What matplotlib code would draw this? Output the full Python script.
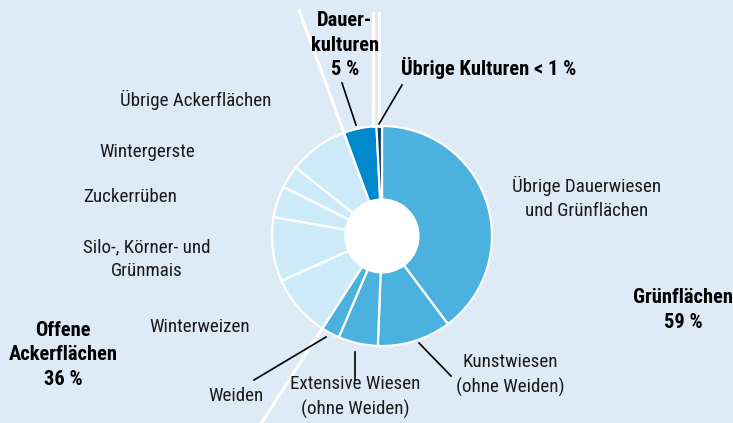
import matplotlib
matplotlib.use("Agg")
import matplotlib.pyplot as plt
import matplotlib.patches as mpatches
from matplotlib import font_manager
import numpy as np

# slices clockwise from 12 o'clock, shares in %
labels = ["Übrige Dauerwiesen\nund Grünflächen", "Kunstwiesen\n(ohne Weiden)",
          "Extensive Wiesen\n(ohne Weiden)", "Weiden", "Winterweizen",
          "Silo-, Körner- und\nGrünmais", "Zuckerrüben", "Wintergerste",
          "Übrige Ackerflächen", "Dauerkulturen", "Übrige Kulturen"]
values = [39.7, 10.8, 5.8, 2.7, 9.2, 9.4, 4.6, 3.3, 8.7, 4.8, 0.8]
groups = ["gruen"] * 4 + ["acker"] * 5 + ["dauer", "uebrig"]

group_colors = {"gruen": "#4bb2df", "acker": "#cdeaf9",
                "dauer": "#0088cd", "uebrig": "#003a6b"}
bg = "#dfeaf7"

W, H = 733, 423
cx, cy = 382, H - 236
r_out, r_in = 110, 36.5

# pick a condensed face if there is one
names = {f.name for f in font_manager.fontManager.ttflist}
family = "DejaVu Sans"
narrow = False
for cand in ["Roboto Condensed", "Liberation Sans Narrow", "Open Sans Condensed",
             "Noto Sans Condensed", "Roboto", "Liberation Sans"]:
    if cand in names:
        family = cand
        narrow = "Narrow" in cand or "Condensed" in cand
        break
plt.rcParams["font.family"] = [family, "DejaVu Sans"]
fs = 13.7 if narrow else 10.8
fsb = 14.8 if narrow else 11.2

fig = plt.figure(figsize=(W / 100, H / 100), dpi=100, facecolor=bg)
ax = fig.add_axes([0, 0, 1, 1])
ax.set_facecolor(bg)

wedges, _ = ax.pie(values, colors=[group_colors[g] for g in groups],
                   startangle=90, counterclock=False, center=(cx, cy),
                   radius=r_out, frame=True,
                   wedgeprops=dict(width=r_out - r_in, edgecolor="white", linewidth=1.6))
ax.add_patch(mpatches.Circle((cx, cy), r_in, facecolor="white", edgecolor="none", zorder=3))
ax.set_xlim(0, W)
ax.set_ylim(0, H)
ax.axis("off")

# boundary angles (degrees clockwise from top)
cum = np.cumsum(values) / np.sum(values) * 360


def pt(angle, r):
    a = np.deg2rad(angle)
    return cx + r * np.sin(a), cy + r * np.cos(a)


# white group separators running out of the ring
for i, r_end in [(3, 230), (8, 240)]:
    x0, y0 = pt(cum[i], r_out)
    x1, y1 = pt(cum[i], r_end)
    ax.plot([x0, x1], [y0, y1], color="white", lw=2.2, zorder=1)
for i in [9, 10]:
    x0, y0 = pt(cum[i], r_out)
    ax.plot([x0 - 3.5, x0 - 3.5], [y0, H - 13], color="white", lw=2.2, zorder=1)

txt = dict(fontsize=fs, color="#1a1a1a", ha="center", va="center", linespacing=1.4)
bold = dict(fontsize=fsb, color="black", ha="center", va="center",
            fontweight="bold", linespacing=1.37)


def leader(x0, y0, x1, y1):
    ax.plot([x0, x1], [H - y0, H - y1], color="black", lw=1.2, zorder=4)


ax.text(587, H - 198, labels[0], **txt)
ax.text(510, H - 375, labels[1], **txt)
leader(419, 343, 451, 376)
ax.text(355, H - 397, labels[2], **txt)
leader(355, 352, 355, 380)
ax.text(236, H - 396, labels[3], **txt)
leader(254, 380, 326, 337)
ax.text(200, H - 327, labels[4], **txt)
ax.text(147, H - 259, labels[5], **txt)
ax.text(130, H - 197, labels[6], **txt)
ax.text(147, H - 152, labels[7], **txt)
ax.text(196, H - 100, labels[8], **txt)

ax.text(345, H - 45, "Dauer-\nkulturen\n5 %", **bold)
leader(342, 83, 356, 125)
ax.text(489, H - 68, "Übrige Kulturen < 1 %", **bold)
leader(402, 85, 379, 124)

ax.text(683, H - 310, "Grünflächen\n59 %", **bold)
ax.text(63, H - 355, "Offene\nAckerflächen\n36 %", **bold)

fig.savefig("out.png", dpi=100, facecolor=bg)
